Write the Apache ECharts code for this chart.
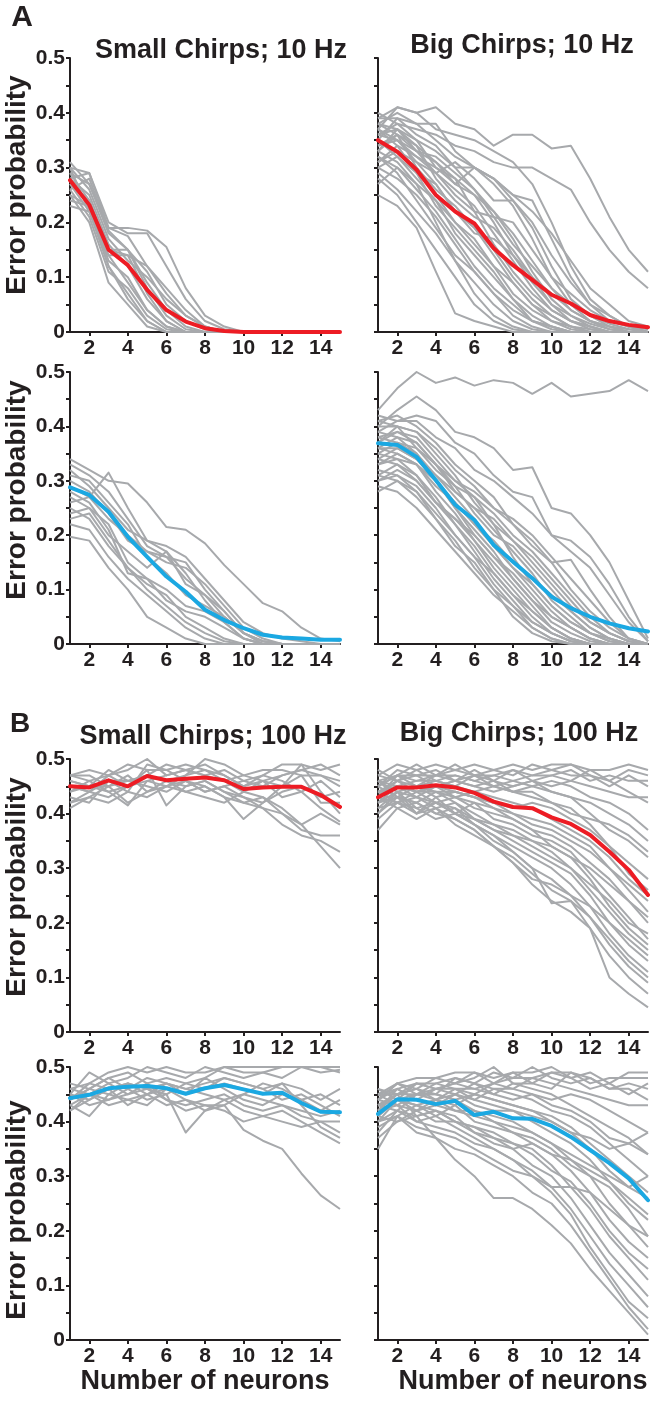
<!DOCTYPE html>
<html>
<head>
<meta charset="utf-8">
<script src="https://cdn.jsdelivr.net/npm/echarts@6/dist/echarts.min.js"></script>
<style>
  html, body { margin: 0; padding: 0; background: #ffffff; }
  #chart { width: 653px; height: 1404px; }
</style>
</head>
<body>
<div id="chart"></div>
<script>
// ---------------- DATA ----------------
const neuronCounts = [1,2,3,4,5,6,7,8,9,10,11,12,13,14,15];
const xTickValues = [2,4,6,8,10,12,14];
const yTickLabelValues = [0,0.1,0.2,0.3,0.4,0.5];

// A, top row: 10 Hz (red means)
const meanSmall10Red = [0.277,0.232,0.150,0.122,0.077,0.040,0.019,0.007,0.002,0,0,0,0,0,0];
const trialsSmall10Red = [
  [0.31,0.27,0.19,0.19,0.185,0.155,0.08,0.03,0.01,0,0,0,0,0,0],
  [0.30,0.29,0.20,0.18,0.18,0.12,0.06,0.02,0.005,0,0,0,0,0,0],
  [0.28,0.29,0.19,0.175,0.12,0.08,0.04,0.01,0,0,0,0,0,0,0],
  [0.26,0.28,0.185,0.15,0.11,0.05,0.02,0.005,0,0,0,0,0,0,0],
  [0.29,0.24,0.15,0.15,0.09,0.04,0.01,0,0,0,0,0,0,0,0],
  [0.27,0.22,0.14,0.14,0.07,0.02,0,0,0,0,0,0,0,0,0],
  [0.24,0.23,0.13,0.10,0.04,0.01,0,0,0,0,0,0,0,0,0],
  [0.25,0.20,0.09,0.05,0.01,0,0,0,0,0,0,0,0,0,0],
  [0.30,0.22,0.12,0.06,0.02,0,0,0,0,0,0,0,0,0,0],
  [0.26,0.21,0.11,0.08,0.03,0.005,0,0,0,0,0,0,0,0,0],
  [0.28,0.25,0.16,0.12,0.06,0.02,0,0,0,0,0,0,0,0,0],
  [0.23,0.22,0.14,0.09,0.04,0.01,0,0,0,0,0,0,0,0,0],
  [0.30,0.26,0.17,0.13,0.10,0.06,0.03,0.01,0,0,0,0,0,0,0],
  [0.27,0.24,0.15,0.14,0.12,0.07,0.03,0.01,0,0,0,0,0,0,0],
  [0.29,0.27,0.18,0.15,0.08,0.03,0.005,0,0,0,0,0,0,0,0],
  [0.25,0.23,0.12,0.07,0.02,0,0,0,0,0,0,0,0,0,0]
];
const meanBig10Red = [0.350,0.329,0.296,0.250,0.220,0.198,0.153,0.122,0.095,0.068,0.052,0.031,0.020,0.013,0.0085];
const trialsBig10Red = [
  [0.37,0.41,0.40,0.41,0.38,0.37,0.34,0.36,0.36,0.335,0.34,0.28,0.21,0.15,0.11],
  [0.36,0.38,0.37,0.36,0.34,0.33,0.31,0.30,0.30,0.28,0.26,0.20,0.15,0.11,0.08],
  [0.39,0.41,0.40,0.37,0.36,0.35,0.33,0.31,0.27,0.20,0.12,0.06,0.03,0.01,0.005],
  [0.38,0.40,0.38,0.38,0.33,0.30,0.28,0.25,0.24,0.17,0.10,0.05,0.02,0.01,0],
  [0.35,0.39,0.36,0.34,0.30,0.30,0.28,0.24,0.19,0.12,0.06,0.03,0.01,0,0],
  [0.40,0.38,0.35,0.33,0.30,0.26,0.22,0.17,0.11,0.06,0.03,0.01,0,0,0],
  [0.33,0.37,0.33,0.31,0.27,0.25,0.22,0.18,0.13,0.08,0.04,0.02,0.005,0,0],
  [0.36,0.35,0.32,0.29,0.26,0.23,0.18,0.13,0.08,0.04,0.02,0.01,0,0,0],
  [0.34,0.36,0.34,0.28,0.24,0.21,0.19,0.15,0.10,0.05,0.02,0.005,0,0,0],
  [0.31,0.33,0.30,0.26,0.23,0.19,0.14,0.09,0.05,0.02,0.01,0,0,0,0],
  [0.38,0.36,0.30,0.25,0.20,0.17,0.12,0.07,0.04,0.02,0.005,0,0,0,0],
  [0.35,0.32,0.28,0.24,0.18,0.14,0.10,0.06,0.03,0.01,0,0,0,0,0],
  [0.32,0.30,0.26,0.22,0.17,0.12,0.08,0.05,0.02,0.01,0,0,0,0,0],
  [0.30,0.28,0.25,0.21,0.16,0.11,0.07,0.03,0.01,0,0,0,0,0,0],
  [0.37,0.34,0.29,0.23,0.19,0.15,0.11,0.06,0.02,0.005,0,0,0,0,0],
  [0.29,0.26,0.22,0.18,0.13,0.09,0.05,0.02,0.005,0,0,0,0,0,0],
  [0.25,0.23,0.19,0.11,0.034,0.02,0.01,0,0,0,0,0,0,0,0],
  [0.28,0.25,0.20,0.15,0.10,0.05,0.02,0.005,0,0,0,0,0,0,0],
  [0.33,0.31,0.27,0.20,0.13,0.07,0.03,0.01,0,0,0,0,0,0,0],
  [0.36,0.37,0.35,0.30,0.28,0.25,0.20,0.14,0.09,0.05,0.03,0.015,0.005,0,0],
  [0.39,0.39,0.38,0.35,0.32,0.30,0.27,0.23,0.17,0.10,0.05,0.02,0.01,0,0],
  [0.34,0.35,0.31,0.29,0.25,0.22,0.21,0.20,0.15,0.10,0.07,0.04,0.02,0.01,0],
  [0.31,0.34,0.32,0.30,0.27,0.30,0.28,0.25,0.22,0.18,0.13,0.08,0.05,0.02,0.01],
  [0.27,0.30,0.27,0.24,0.20,0.16,0.12,0.09,0.05,0.03,0.01,0,0,0,0],
  [0.35,0.33,0.31,0.27,0.22,0.19,0.15,0.10,0.06,0.03,0.01,0.005,0,0,0],
  [0.37,0.35,0.33,0.32,0.29,0.26,0.21,0.16,0.12,0.08,0.05,0.03,0.015,0.005,0],
  [0.32,0.29,0.24,0.19,0.14,0.11,0.07,0.04,0.02,0.01,0,0,0,0,0],
  [0.38,0.37,0.34,0.31,0.28,0.22,0.16,0.11,0.07,0.04,0.02,0.01,0,0,0],
  [0.33,0.36,0.33,0.29,0.31,0.28,0.24,0.24,0.20,0.14,0.09,0.05,0.03,0.01,0],
  [0.30,0.32,0.29,0.27,0.22,0.18,0.17,0.14,0.10,0.07,0.04,0.02,0.01,0.005,0]
];

// A, bottom row: 10 Hz (blue means)
const meanSmall10Blue = [0.288,0.274,0.243,0.197,0.160,0.124,0.096,0.063,0.044,0.029,0.017,0.012,0.010,0.008,0.008];
const trialsSmall10Blue = [
  [0.34,0.32,0.30,0.295,0.26,0.215,0.21,0.185,0.145,0.11,0.075,0.06,0.03,0.01,0.005],
  [0.197,0.19,0.14,0.10,0.05,0.03,0.01,0,0,0,0,0,0,0,0],
  [0.26,0.27,0.315,0.25,0.19,0.17,0.13,0.08,0.04,0.01,0,0,0,0,0],
  [0.33,0.31,0.28,0.23,0.18,0.16,0.15,0.10,0.06,0.02,0.005,0,0,0,0],
  [0.30,0.28,0.24,0.19,0.17,0.16,0.12,0.09,0.05,0.02,0,0,0,0,0],
  [0.28,0.26,0.21,0.13,0.12,0.10,0.07,0.06,0.04,0.01,0,0,0,0,0],
  [0.27,0.25,0.22,0.15,0.12,0.08,0.06,0.05,0.03,0.01,0,0,0,0,0],
  [0.24,0.25,0.20,0.17,0.14,0.17,0.11,0.09,0.06,0.02,0.005,0,0,0,0],
  [0.23,0.24,0.19,0.14,0.11,0.09,0.05,0.03,0.01,0,0,0,0,0,0],
  [0.29,0.27,0.23,0.20,0.17,0.15,0.14,0.11,0.07,0.03,0.01,0,0,0,0],
  [0.31,0.30,0.26,0.22,0.16,0.13,0.09,0.07,0.05,0.02,0.005,0,0,0,0],
  [0.25,0.23,0.18,0.14,0.10,0.07,0.04,0.02,0.005,0,0,0,0,0,0],
  [0.32,0.29,0.25,0.21,0.19,0.18,0.16,0.12,0.08,0.04,0.02,0.01,0.005,0,0],
  [0.22,0.21,0.16,0.12,0.09,0.06,0.03,0.01,0,0,0,0,0,0,0]
];
const meanBig10Blue = [0.369,0.366,0.344,0.301,0.256,0.228,0.182,0.151,0.121,0.087,0.066,0.050,0.038,0.029,0.023];
const trialsBig10Blue = [
  [0.43,0.47,0.50,0.48,0.49,0.475,0.485,0.48,0.46,0.48,0.455,0.46,0.465,0.485,0.465],
  [0.40,0.43,0.455,0.43,0.39,0.38,0.36,0.32,0.325,0.25,0.24,0.20,0.15,0.08,0.01],
  [0.42,0.41,0.42,0.41,0.37,0.35,0.31,0.28,0.27,0.20,0.19,0.16,0.11,0.05,0.005],
  [0.41,0.42,0.40,0.37,0.33,0.30,0.27,0.22,0.18,0.15,0.155,0.10,0.05,0.01,0],
  [0.39,0.41,0.41,0.38,0.36,0.32,0.30,0.27,0.24,0.20,0.17,0.14,0.09,0.04,0.005],
  [0.37,0.40,0.39,0.36,0.32,0.29,0.25,0.22,0.19,0.15,0.10,0.06,0.03,0.01,0],
  [0.38,0.39,0.38,0.34,0.30,0.27,0.22,0.19,0.15,0.11,0.07,0.04,0.02,0.005,0],
  [0.36,0.38,0.37,0.33,0.28,0.25,0.21,0.17,0.13,0.08,0.05,0.02,0.01,0,0],
  [0.40,0.40,0.39,0.35,0.31,0.26,0.22,0.16,0.11,0.07,0.04,0.02,0.005,0,0],
  [0.35,0.37,0.35,0.31,0.27,0.23,0.18,0.14,0.10,0.06,0.03,0.01,0,0,0],
  [0.34,0.36,0.34,0.30,0.25,0.21,0.17,0.12,0.08,0.04,0.02,0.005,0,0,0],
  [0.33,0.35,0.33,0.28,0.24,0.19,0.15,0.11,0.07,0.03,0.01,0,0,0,0],
  [0.31,0.33,0.31,0.27,0.22,0.18,0.13,0.09,0.05,0.02,0.005,0,0,0,0],
  [0.30,0.31,0.29,0.25,0.20,0.16,0.11,0.07,0.03,0.01,0,0,0,0,0],
  [0.28,0.30,0.27,0.23,0.18,0.15,0.10,0.05,0.02,0.005,0,0,0,0,0],
  [0.32,0.31,0.28,0.24,0.20,0.16,0.13,0.09,0.06,0.03,0.01,0,0,0,0],
  [0.36,0.35,0.33,0.29,0.26,0.22,0.19,0.15,0.12,0.09,0.06,0.03,0.01,0,0],
  [0.37,0.39,0.37,0.33,0.29,0.27,0.24,0.20,0.17,0.13,0.09,0.05,0.02,0.005,0],
  [0.34,0.33,0.30,0.26,0.23,0.20,0.16,0.13,0.09,0.05,0.03,0.01,0,0,0],
  [0.29,0.28,0.25,0.21,0.17,0.13,0.09,0.06,0.03,0.01,0,0,0,0,0],
  [0.38,0.37,0.36,0.32,0.29,0.24,0.20,0.18,0.14,0.10,0.06,0.03,0.01,0,0],
  [0.35,0.34,0.33,0.30,0.26,0.22,0.18,0.14,0.11,0.07,0.04,0.02,0.005,0,0],
  [0.41,0.40,0.36,0.33,0.30,0.28,0.25,0.23,0.20,0.16,0.12,0.08,0.04,0.01,0],
  [0.33,0.34,0.31,0.26,0.22,0.17,0.12,0.08,0.04,0.02,0.005,0,0,0,0],
  [0.39,0.38,0.35,0.30,0.25,0.20,0.16,0.12,0.08,0.05,0.03,0.01,0,0,0],
  [0.31,0.30,0.28,0.23,0.19,0.14,0.10,0.07,0.04,0.02,0.005,0,0,0,0],
  [0.36,0.36,0.34,0.31,0.28,0.25,0.23,0.19,0.16,0.12,0.08,0.04,0.02,0.005,0],
  [0.30,0.32,0.30,0.26,0.23,0.19,0.14,0.10,0.06,0.03,0.01,0,0,0,0]
];

// B, top row: 100 Hz (red means)
const meanSmall100Red = [0.450,0.448,0.461,0.450,0.469,0.461,0.464,0.466,0.461,0.445,0.448,0.449,0.449,0.434,0.412];
const trialsSmall100Red = [
  [0.47,0.46,0.47,0.48,0.50,0.47,0.48,0.49,0.47,0.45,0.47,0.49,0.49,0.48,0.49],
  [0.46,0.45,0.48,0.46,0.47,0.49,0.48,0.47,0.48,0.46,0.45,0.47,0.48,0.49,0.47],
  [0.42,0.43,0.45,0.42,0.44,0.45,0.44,0.43,0.42,0.44,0.46,0.47,0.48,0.47,0.46],
  [0.45,0.44,0.47,0.45,0.48,0.415,0.45,0.46,0.44,0.43,0.42,0.44,0.45,0.43,0.44],
  [0.43,0.42,0.46,0.44,0.49,0.48,0.46,0.45,0.43,0.39,0.42,0.45,0.47,0.42,0.42],
  [0.47,0.47,0.45,0.46,0.47,0.46,0.47,0.50,0.49,0.47,0.46,0.45,0.49,0.44,0.40],
  [0.44,0.46,0.44,0.415,0.46,0.47,0.48,0.47,0.46,0.44,0.43,0.41,0.38,0.40,0.38],
  [0.46,0.45,0.45,0.47,0.44,0.46,0.44,0.45,0.43,0.42,0.43,0.40,0.37,0.36,0.36],
  [0.45,0.44,0.46,0.46,0.45,0.44,0.46,0.44,0.45,0.43,0.41,0.38,0.36,0.35,0.33],
  [0.42,0.44,0.43,0.45,0.47,0.46,0.45,0.46,0.44,0.42,0.41,0.40,0.38,0.34,0.30],
  [0.47,0.48,0.47,0.49,0.48,0.48,0.49,0.48,0.46,0.47,0.48,0.48,0.47,0.47,0.45],
  [0.44,0.45,0.44,0.45,0.46,0.45,0.47,0.48,0.47,0.45,0.46,0.43,0.44,0.46,0.43],
  [0.41,0.43,0.42,0.44,0.43,0.45,0.46,0.44,0.45,0.46,0.47,0.46,0.44,0.41,0.385]
];
const meanBig100Red = [0.430,0.448,0.448,0.452,0.448,0.438,0.422,0.412,0.410,0.393,0.381,0.361,0.330,0.297,0.251];
const trialsBig100Red = [
  [0.47,0.49,0.48,0.49,0.48,0.49,0.48,0.49,0.48,0.49,0.49,0.48,0.48,0.49,0.48],
  [0.46,0.47,0.49,0.47,0.49,0.47,0.48,0.47,0.49,0.48,0.47,0.47,0.46,0.48,0.47],
  [0.45,0.47,0.47,0.48,0.46,0.48,0.46,0.48,0.47,0.47,0.48,0.46,0.47,0.46,0.46],
  [0.44,0.45,0.46,0.47,0.48,0.47,0.47,0.46,0.47,0.48,0.49,0.47,0.45,0.47,0.45],
  [0.47,0.46,0.48,0.46,0.47,0.46,0.47,0.48,0.46,0.45,0.46,0.48,0.46,0.44,0.42],
  [0.43,0.46,0.45,0.46,0.45,0.47,0.46,0.45,0.46,0.47,0.46,0.45,0.44,0.43,0.43],
  [0.45,0.48,0.47,0.47,0.47,0.46,0.45,0.46,0.45,0.46,0.45,0.43,0.42,0.40,0.37],
  [0.44,0.46,0.44,0.45,0.46,0.45,0.44,0.45,0.46,0.44,0.43,0.42,0.40,0.38,0.35],
  [0.42,0.45,0.44,0.44,0.43,0.44,0.45,0.44,0.43,0.42,0.40,0.39,0.38,0.36,0.33],
  [0.46,0.43,0.45,0.43,0.44,0.43,0.42,0.41,0.42,0.41,0.39,0.37,0.34,0.31,0.28],
  [0.40,0.44,0.43,0.45,0.44,0.43,0.41,0.40,0.39,0.38,0.36,0.34,0.30,0.27,0.24],
  [0.43,0.42,0.44,0.42,0.43,0.41,0.40,0.39,0.37,0.36,0.34,0.31,0.28,0.24,0.20],
  [0.41,0.44,0.40,0.43,0.40,0.42,0.39,0.38,0.36,0.35,0.33,0.29,0.25,0.21,0.17],
  [0.45,0.43,0.42,0.44,0.42,0.40,0.38,0.36,0.35,0.33,0.30,0.26,0.22,0.18,0.15],
  [0.44,0.42,0.43,0.41,0.42,0.39,0.37,0.35,0.33,0.31,0.29,0.25,0.20,0.16,0.13],
  [0.42,0.44,0.41,0.42,0.41,0.38,0.36,0.34,0.32,0.30,0.27,0.23,0.18,0.14,0.11],
  [0.40,0.43,0.40,0.42,0.40,0.38,0.35,0.33,0.30,0.28,0.25,0.21,0.16,0.12,0.09],
  [0.43,0.41,0.42,0.40,0.39,0.37,0.34,0.32,0.29,0.26,0.24,0.19,0.14,0.10,0.07],
  [0.37,0.41,0.39,0.41,0.39,0.37,0.34,0.31,0.27,0.24,0.22,0.19,0.10,0.07,0.045],
  [0.44,0.45,0.43,0.42,0.40,0.38,0.36,0.33,0.30,0.236,0.24,0.21,0.17,0.13,0.10],
  [0.41,0.42,0.40,0.41,0.38,0.36,0.34,0.31,0.28,0.27,0.25,0.23,0.20,0.17,0.14],
  [0.46,0.45,0.44,0.45,0.43,0.42,0.41,0.39,0.37,0.34,0.32,0.28,0.23,0.19,0.16],
  [0.42,0.43,0.42,0.40,0.41,0.39,0.38,0.37,0.35,0.34,0.32,0.30,0.27,0.24,0.21],
  [0.45,0.47,0.46,0.46,0.45,0.44,0.43,0.42,0.41,0.39,0.37,0.35,0.32,0.28,0.25],
  [0.39,0.42,0.41,0.39,0.40,0.39,0.37,0.36,0.34,0.32,0.30,0.27,0.24,0.20,0.18],
  [0.46,0.44,0.45,0.44,0.44,0.43,0.42,0.40,0.38,0.37,0.35,0.33,0.30,0.26,0.22],
  [0.43,0.47,0.45,0.47,0.46,0.45,0.46,0.44,0.44,0.42,0.41,0.38,0.34,0.29,0.26],
  [0.48,0.46,0.47,0.45,0.46,0.47,0.45,0.44,0.45,0.44,0.43,0.40,0.37,0.35,0.32]
];

// B, bottom row: 100 Hz (blue means)
const meanSmall100Blue = [0.443,0.449,0.461,0.464,0.465,0.461,0.451,0.461,0.467,0.459,0.451,0.453,0.434,0.418,0.417];
const trialsSmall100Blue = [
  [0.46,0.47,0.49,0.50,0.49,0.50,0.49,0.49,0.50,0.50,0.50,0.50,0.50,0.50,0.50],
  [0.45,0.49,0.47,0.48,0.50,0.49,0.48,0.50,0.49,0.48,0.49,0.50,0.50,0.50,0.49],
  [0.44,0.46,0.48,0.49,0.47,0.48,0.47,0.48,0.50,0.49,0.49,0.48,0.50,0.49,0.495],
  [0.43,0.41,0.45,0.47,0.46,0.47,0.46,0.47,0.48,0.47,0.46,0.47,0.46,0.44,0.46],
  [0.42,0.44,0.46,0.43,0.45,0.46,0.45,0.48,0.46,0.44,0.43,0.45,0.44,0.42,0.44],
  [0.45,0.43,0.44,0.46,0.44,0.45,0.38,0.42,0.44,0.45,0.44,0.43,0.42,0.41,0.42],
  [0.47,0.46,0.45,0.44,0.43,0.46,0.44,0.43,0.42,0.40,0.41,0.40,0.39,0.40,0.40],
  [0.43,0.45,0.47,0.45,0.47,0.44,0.42,0.43,0.43,0.385,0.365,0.35,0.305,0.265,0.24],
  [0.44,0.47,0.46,0.47,0.45,0.47,0.46,0.45,0.44,0.42,0.41,0.42,0.40,0.38,0.36],
  [0.46,0.45,0.44,0.45,0.46,0.44,0.43,0.44,0.45,0.43,0.42,0.43,0.41,0.40,0.38],
  [0.44,0.46,0.48,0.46,0.48,0.47,0.45,0.46,0.47,0.46,0.45,0.47,0.43,0.39,0.37],
  [0.45,0.44,0.46,0.47,0.46,0.45,0.47,0.46,0.48,0.47,0.46,0.44,0.45,0.43,0.41],
  [0.42,0.45,0.43,0.44,0.45,0.43,0.44,0.42,0.43,0.45,0.47,0.46,0.44,0.45,0.43]
];
const meanBig100Blue = [0.414,0.441,0.440,0.432,0.438,0.412,0.418,0.406,0.405,0.392,0.372,0.348,0.324,0.296,0.256];
const trialsBig100Blue = [
  [0.45,0.47,0.48,0.48,0.49,0.49,0.48,0.49,0.49,0.50,0.48,0.49,0.47,0.49,0.49],
  [0.44,0.46,0.47,0.47,0.48,0.47,0.49,0.48,0.48,0.49,0.49,0.47,0.48,0.48,0.48],
  [0.43,0.45,0.46,0.48,0.47,0.49,0.47,0.48,0.50,0.48,0.47,0.48,0.46,0.47,0.46],
  [0.46,0.44,0.47,0.46,0.47,0.48,0.50,0.47,0.47,0.49,0.48,0.46,0.47,0.45,0.47],
  [0.42,0.45,0.45,0.46,0.46,0.46,0.47,0.49,0.47,0.46,0.49,0.48,0.46,0.46,0.44],
  [0.44,0.47,0.46,0.45,0.48,0.47,0.46,0.46,0.48,0.47,0.46,0.45,0.44,0.43,0.43],
  [0.41,0.44,0.45,0.47,0.46,0.45,0.47,0.46,0.45,0.44,0.45,0.44,0.42,0.40,0.38],
  [0.45,0.46,0.44,0.46,0.45,0.47,0.45,0.47,0.46,0.45,0.43,0.41,0.39,0.37,0.34],
  [0.43,0.42,0.45,0.44,0.46,0.44,0.46,0.45,0.44,0.42,0.41,0.39,0.36,0.33,0.30],
  [0.40,0.44,0.43,0.44,0.43,0.45,0.44,0.43,0.42,0.41,0.39,0.36,0.33,0.30,0.27],
  [0.42,0.46,0.44,0.43,0.45,0.43,0.42,0.42,0.40,0.38,0.36,0.33,0.29,0.25,0.22],
  [0.44,0.43,0.42,0.44,0.42,0.42,0.40,0.39,0.38,0.36,0.33,0.30,0.25,0.21,0.19],
  [0.39,0.41,0.43,0.41,0.43,0.40,0.39,0.38,0.36,0.34,0.31,0.27,0.22,0.18,0.15],
  [0.41,0.40,0.42,0.40,0.40,0.39,0.37,0.36,0.35,0.32,0.28,0.24,0.19,0.15,0.11],
  [0.43,0.45,0.41,0.42,0.41,0.38,0.36,0.35,0.32,0.30,0.26,0.21,0.16,0.12,0.08],
  [0.38,0.42,0.40,0.41,0.39,0.37,0.35,0.33,0.31,0.28,0.24,0.19,0.14,0.10,0.06],
  [0.40,0.41,0.39,0.38,0.37,0.35,0.33,0.31,0.30,0.27,0.23,0.17,0.12,0.07,0.04],
  [0.37,0.40,0.41,0.37,0.35,0.34,0.32,0.30,0.27,0.25,0.21,0.16,0.11,0.06,0.02],
  [0.35,0.41,0.38,0.37,0.33,0.30,0.26,0.26,0.24,0.21,0.177,0.13,0.09,0.05,0.01],
  [0.42,0.43,0.40,0.39,0.38,0.36,0.35,0.33,0.30,0.28,0.28,0.27,0.24,0.21,0.17],
  [0.43,0.44,0.43,0.42,0.40,0.38,0.37,0.35,0.36,0.34,0.33,0.31,0.29,0.26,0.23],
  [0.45,0.43,0.45,0.45,0.44,0.42,0.41,0.40,0.38,0.36,0.34,0.32,0.30,0.28,0.30],
  [0.41,0.44,0.42,0.43,0.42,0.41,0.40,0.38,0.37,0.35,0.32,0.30,0.28,0.24,0.19],
  [0.46,0.45,0.46,0.44,0.45,0.44,0.43,0.42,0.41,0.40,0.38,0.37,0.35,0.36,0.34],
  [0.44,0.47,0.45,0.45,0.44,0.45,0.44,0.43,0.42,0.40,0.38,0.35,0.31,0.28,0.26],
  [0.40,0.42,0.41,0.42,0.40,0.39,0.38,0.36,0.34,0.31,0.29,0.25,0.20,0.16,0.13],
  [0.45,0.45,0.47,0.46,0.47,0.46,0.45,0.44,0.45,0.43,0.42,0.40,0.37,0.36,0.38]
];

// Text
const panelTitles = ['Small Chirps; 10 Hz','Big Chirps; 10 Hz','Small Chirps; 100 Hz','Big Chirps; 100 Hz'];
const yAxisTitle = 'Error probability';
const xAxisTitle = 'Number of neurons';
const panelLetters = ['A','B'];

// ---------------- RENDER ----------------
const INK = '#231f20';
const GRAY = '#a7a9ac';
const RED = '#ed1c24';
const BLUE = '#1ba8e2';
const FONT = '"Liberation Sans", Arial, Helvetica, sans-serif';

const panels = [
  {left:70,  top:58,   height:274, trials:trialsSmall10Red,   mean:meanSmall10Red,   color:RED,  yLabels:true},
  {left:378, top:58,   height:274, trials:trialsBig10Red,     mean:meanBig10Red,     color:RED,  yLabels:false},
  {left:70,  top:372,  height:272, trials:trialsSmall10Blue,  mean:meanSmall10Blue,  color:BLUE, yLabels:true},
  {left:378, top:372,  height:272, trials:trialsBig10Blue,    mean:meanBig10Blue,    color:BLUE, yLabels:false},
  {left:70,  top:759,  height:273, trials:trialsSmall100Red,  mean:meanSmall100Red,  color:RED,  yLabels:true},
  {left:378, top:759,  height:273, trials:trialsBig100Red,    mean:meanBig100Red,    color:RED,  yLabels:false},
  {left:70,  top:1067, height:273, trials:trialsSmall100Blue, mean:meanSmall100Blue, color:BLUE, yLabels:true},
  {left:378, top:1067, height:273, trials:trialsBig100Blue,   mean:meanBig100Blue,   color:BLUE, yLabels:false}
];

const toPoints = arr => arr.map((v, i) => [neuronCounts[i], v]);

const grids = [], xAxes = [], yAxes = [], series = [];
panels.forEach((p, gi) => {
  grids.push({left:p.left, top:p.top, width:270, height:p.height, containLabel:false});
  xAxes.push({
    gridIndex: gi, type:'value', min:1, max:15, interval:1,
    axisLine:{show:true, onZero:false, lineStyle:{color:INK, width:2}},
    axisTick:{show:true, customValues:xTickValues, length:4, lineStyle:{color:INK, width:2}},
    axisLabel:{show:true, customValues:xTickValues, color:INK, fontSize:21, fontWeight:'bold', fontFamily:FONT, margin:6},
    splitLine:{show:false}
  });
  yAxes.push({
    gridIndex: gi, type:'value', min:0, max:0.5, interval:0.05,
    axisLine:{show:true, onZero:false, lineStyle:{color:INK, width:2}},
    axisTick:{show:true, length:4, lineStyle:{color:INK, width:2}},
    axisLabel:{show:p.yLabels, customValues:yTickLabelValues, color:INK, fontSize:21, fontWeight:'bold', fontFamily:FONT, margin:5,
      formatter: v => (Math.abs(v) < 1e-9 ? '0' : (+v).toFixed(1))},
    splitLine:{show:false}
  });
  p.trials.forEach(t => series.push({
    type:'line', xAxisIndex:gi, yAxisIndex:gi, data:toPoints(t), symbol:'none', silent:true,
    lineStyle:{color:GRAY, width:2, join:'round'}, z:2
  }));
  series.push({
    type:'line', xAxisIndex:gi, yAxisIndex:gi, data:toPoints(p.mean), symbol:'none', silent:true,
    lineStyle:{color:p.color, width:4, join:'round', cap:'round'}, z:3
  });
});

function txt(x, y, text, size, opts) {
  return Object.assign({
    type:'text', x:x, y:y, silent:true,
    style:{text:text, fill:INK, font:'bold ' + size + 'px ' + FONT, align:'center', verticalAlign:'middle'}
  }, opts || {});
}

const graphics = [
  txt(22, 18, panelLetters[0], 30),
  txt(20, 724, panelLetters[1], 28),
  txt(221, 51, panelTitles[0], 27),
  txt(522, 46, panelTitles[1], 27),
  txt(213, 737, panelTitles[2], 27),
  txt(519, 734, panelTitles[3], 27),
  txt(17, 185, yAxisTitle, 28, {rotation:Math.PI/2}),
  txt(17, 490, yAxisTitle, 28, {rotation:Math.PI/2}),
  txt(17, 887, yAxisTitle, 28, {rotation:Math.PI/2}),
  txt(17, 1210, yAxisTitle, 28, {rotation:Math.PI/2}),
  txt(205, 1382, xAxisTitle, 27),
  txt(523, 1382, xAxisTitle, 27)
];

const chart = echarts.init(document.getElementById('chart'), null, {renderer:'canvas', width:653, height:1404});
chart.setOption({
  animation:false,
  backgroundColor:'#ffffff',
  grid:grids, xAxis:xAxes, yAxis:yAxes, series:series,
  graphic:graphics
});
</script>
</body>
</html>
